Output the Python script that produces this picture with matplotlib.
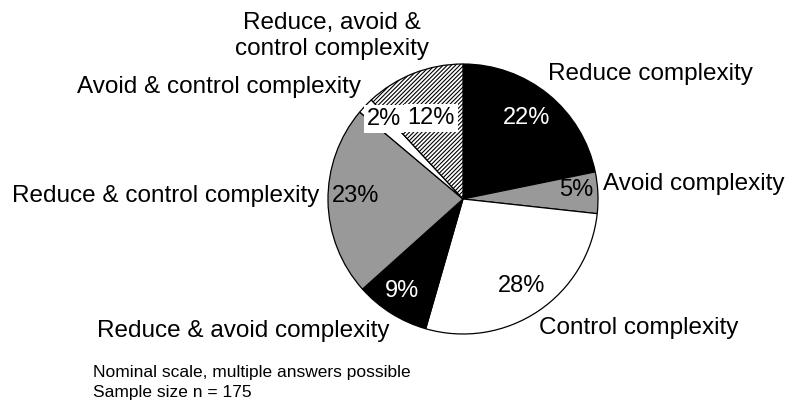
import matplotlib
matplotlib.use("Agg")
import matplotlib.pyplot as plt

plt.rcParams["font.family"] = ["Liberation Sans", "DejaVu Sans"]
plt.rcParams["hatch.linewidth"] = 0.8

# -----------------------------
# Data
# -----------------------------
categories = [
    "Reduce complexity",
    "Avoid complexity",
    "Control complexity",
    "Reduce & avoid complexity",
    "Reduce & control complexity",
    "Avoid & control complexity",
    "Reduce, avoid &\ncontrol complexity",
]
shares = [22, 5, 28, 9, 23, 2, 12]
fills = ["black", "#999999", "white", "black", "#999999", "white", "white"]
hatches = [None, None, None, None, None, None, "////////"]
pct_colors = ["white", "black", "black", "white", "black", "black", "black"]

notes = ["Nominal scale, multiple answers possible", "Sample size n = 175"]

# -----------------------------
# Layout (pixel coordinates, y measured from the top)
# -----------------------------
W, H = 787, 407
center = (463, 199)
radius = 135

cat_pos = [(548, 74, "left"), (603, 184, "left"), (539, 328, "left"),
           (97, 331, "left"), (12, 196, "left"), (77, 87, "left"),
           (332, 36, "center")]
pct_pos = [(527, 118), (576, 190), (522, 286), (402, 291),
           (356, 196), (384, 119), (431, 118)]


def px(x, y):
    return x, H - y


fig = plt.figure(figsize=(W / 100, H / 100), dpi=100)
ax = fig.add_axes([0, 0, 1, 1])

wedges, _ = ax.pie(
    shares,
    colors=fills,
    startangle=90,
    counterclock=False,
    radius=radius,
    center=px(*center),
    wedgeprops=dict(edgecolor="black", linewidth=0.9),
    frame=True,
)
ax.set_xlim(0, W)
ax.set_ylim(0, H)
ax.set_aspect("equal")
ax.axis("off")

for w, h in zip(wedges, hatches):
    if h:
        w.set_hatch(h)

for name, (x, y, ha) in zip(categories, cat_pos):
    ax.text(*px(x, y), name, fontsize=17.5, ha=ha, va="center",
            multialignment="center", linespacing=1.25)

for i, (val, (x, y)) in enumerate(zip(shares, pct_pos)):
    box = None
    if i >= 5:
        box = dict(boxstyle="square,pad=0.12", facecolor="white", edgecolor="none")
    ax.text(*px(x, y), f"{val}%", fontsize=17, ha="center", va="center",
            color=pct_colors[i], bbox=box)

ax.text(*px(93, 373), notes[0], fontsize=12.5, ha="left", va="center")
ax.text(*px(93, 393), notes[1], fontsize=12.5, ha="left", va="center")

fig.savefig("out.png", dpi=100, facecolor="white")
